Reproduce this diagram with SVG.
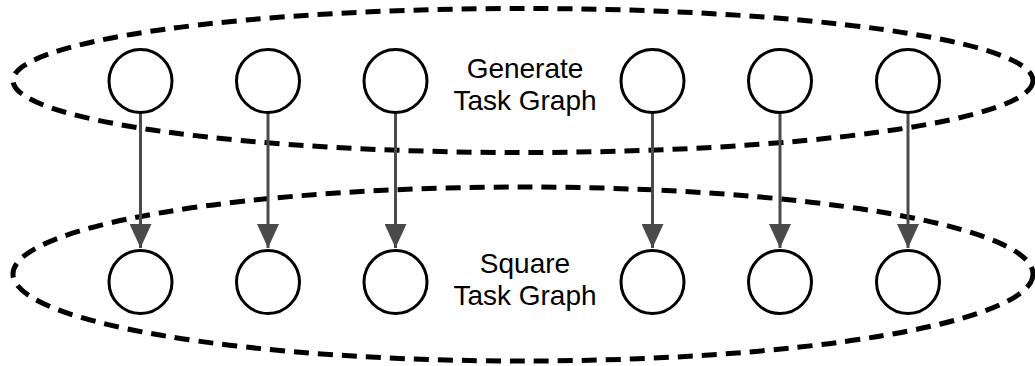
<svg xmlns="http://www.w3.org/2000/svg" width="1035" height="366" viewBox="0 0 1035 366">
  <defs>
    <style>
      .group { fill: none; stroke: #000; stroke-width: 5; stroke-dasharray: 15 9; }
      .task { fill: #fff; stroke: #000; stroke-width: 3; }
      .edge { fill: none; stroke: #4a4a4a; stroke-width: 3; }
      .label { font-family: "Liberation Sans", Arial, sans-serif; font-size: 28px; fill: #000; text-anchor: middle; }
    </style>
    <marker id="arrow" viewBox="0 0 24 22" refX="24" refY="11" markerWidth="24" markerHeight="22" markerUnits="userSpaceOnUse" orient="auto">
      <path d="M0,0 L24,11 L0,22 Z" fill="#4a4a4a"/>
    </marker>
  </defs>

  <rect width="1035" height="366" fill="#fff"/>

  <!-- task graph boundaries -->
  <g id="generate-graph">
    <ellipse class="group" cx="523" cy="80.5" rx="510" ry="72"/>
    <text class="label" x="525" y="78">Generate</text>
    <text class="label" x="525" y="110">Task Graph</text>
  </g>
  <g id="square-graph">
    <ellipse class="group" cx="523" cy="274" rx="510" ry="87"/>
    <text class="label" x="525" y="273">Square</text>
    <text class="label" x="525" y="305">Task Graph</text>
  </g>

  <!-- connectors -->
  <g id="edges">
    <line class="edge" x1="140.5" y1="112" x2="140.5" y2="248" marker-end="url(#arrow)"/>
    <line class="edge" x1="268" y1="112" x2="268" y2="248" marker-end="url(#arrow)"/>
    <line class="edge" x1="395.5" y1="112" x2="395.5" y2="248" marker-end="url(#arrow)"/>
    <line class="edge" x1="652.5" y1="112" x2="652.5" y2="248" marker-end="url(#arrow)"/>
    <line class="edge" x1="780" y1="112" x2="780" y2="248" marker-end="url(#arrow)"/>
    <line class="edge" x1="908" y1="112" x2="908" y2="248" marker-end="url(#arrow)"/>
  </g>

  <!-- generate tasks -->
  <g id="gen-1"><circle class="task" cx="140.5" cy="81" r="31.5"/></g>
  <g id="gen-2"><circle class="task" cx="268" cy="81" r="31.5"/></g>
  <g id="gen-3"><circle class="task" cx="395.5" cy="81" r="31.5"/></g>
  <g id="gen-4"><circle class="task" cx="652.5" cy="81" r="31.5"/></g>
  <g id="gen-5"><circle class="task" cx="780" cy="81" r="31.5"/></g>
  <g id="gen-6"><circle class="task" cx="908" cy="81" r="31.5"/></g>

  <!-- square tasks -->
  <g id="sq-1"><circle class="task" cx="140.5" cy="282" r="31.5"/></g>
  <g id="sq-2"><circle class="task" cx="268" cy="282" r="31.5"/></g>
  <g id="sq-3"><circle class="task" cx="395.5" cy="282" r="31.5"/></g>
  <g id="sq-4"><circle class="task" cx="652.5" cy="282" r="31.5"/></g>
  <g id="sq-5"><circle class="task" cx="780" cy="282" r="31.5"/></g>
  <g id="sq-6"><circle class="task" cx="908" cy="282" r="31.5"/></g>
</svg>
